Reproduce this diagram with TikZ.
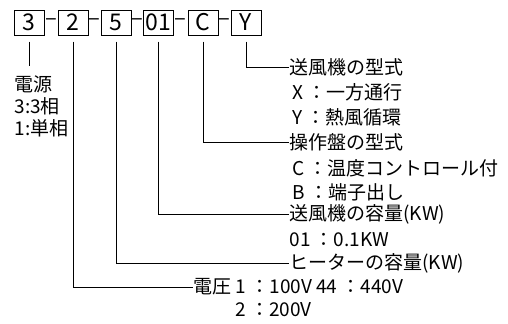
\documentclass[tikz,border=0pt]{standalone}
\usepackage{fontspec}
\setmainfont{Noto Sans CJK JP}
\begin{document}
\begin{tikzpicture}[x=0.5pt,y=-0.5pt,
  codebox/.style={draw, minimum width=15pt, minimum height=12.5pt, inner sep=1pt, font=\fontsize{11.5}{12}\selectfont},
  sepdash/.style={inner sep=0pt, font=\fontsize{11}{12}\selectfont},
  lbl/.style={anchor=west, inner sep=0pt, font=\fontsize{9.5}{10}\selectfont},
  every path/.style={line width=0.5pt}]
\useasboundingbox (0,0) rectangle (508,323);
% Code boxes left to right
\node[codebox] (b3) at (29,22.5) {3};
\node[codebox] (b2) at (73,22.5) {2};
\node[codebox] (b5) at (116,22.5) {5};
\node[codebox] (b01) at (158,22.5) {01};
\node[codebox] (bC) at (203,22.5) {C};
\node[codebox] (bY) at (246,22.5) {Y};

% Dashes between boxes
\node[sepdash] (d1) at (51,22) {–};
\node[sepdash] (d2) at (94.5,22) {–};
\node[sepdash] (d3) at (137.5,22) {–};
\node[sepdash] (d4) at (180,22) {–};
\node[sepdash] (d5) at (224,22) {–};

% Power supply
\node[lbl, anchor=north west, align=left, font=\fontsize{9.5}{11}\selectfont] (den) at (14,75) {電源\\3:3相\\1:単相};
\coordinate (denTop) at (29,66);
\draw ([yshift=-3pt]b3.south) -- (denTop);

% Fan type
\node[lbl] (fanType) at (289,67) {送風機の型式};
\node[lbl] (fanX) at (292,92) {X ：一方通行};
\node[lbl] (fanY) at (292,117) {Y ：熱風循環};

% Panel type
\node[lbl] (panel) at (289,142) {操作盤の型式};
\node[lbl] (panelC) at (292,168) {C ：温度コントロール付};
\node[lbl] (panelB) at (292,192) {B ：端子出し};

% Fan capacity
\node[lbl] (fanCap) at (289,214) {送風機の容量(KW)};
\node[lbl] (fanCapV) at (289,240) {01 ：0.1KW};

% Heater capacity
\node[lbl] (heat) at (289,263) {ヒーターの容量(KW)};

% Voltage
\node[lbl] (volt) at (193,287) {電圧 1 ：100V 44 ：440V};
\node[lbl] (volt2) at (235,310) {2 ：200V};

% Leaders
\draw ([yshift=-3pt]bY.south) |- (fanType.west);
\draw ([yshift=-3pt]bC.south) |- (panel.west);
\draw ([yshift=-3pt]b01.south) |- (fanCap.west);
\draw ([yshift=-3pt]b5.south) |- (heat.west);
\draw ([yshift=-3pt]b2.south) |- (volt.west);
\end{tikzpicture}
\end{document}
